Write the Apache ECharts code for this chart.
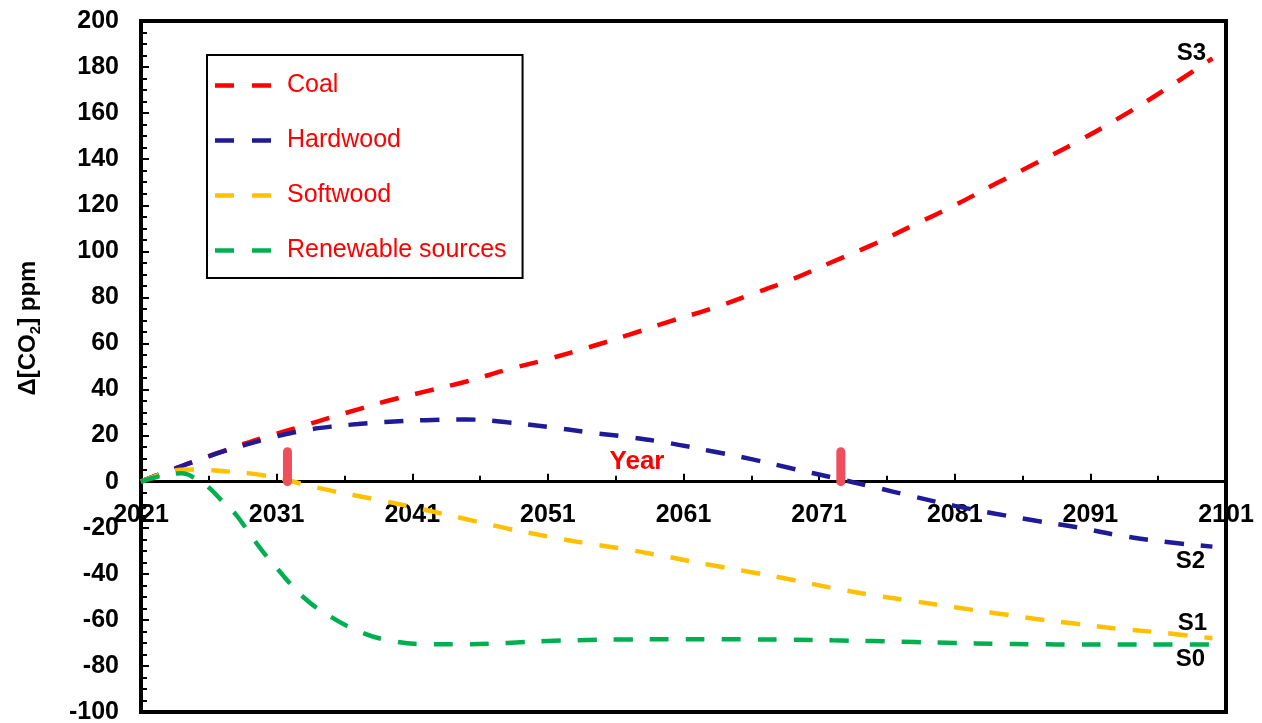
<!DOCTYPE html>
<html><head><meta charset="utf-8">
<script src="https://cdn.jsdelivr.net/npm/echarts@6/dist/echarts.min.js"></script>
<style>html,body{margin:0;padding:0;background:#fff}#c{width:1262px;height:723px}</style>
</head><body><div id="c"></div>
<script>
const startYear = 2021;
const endYear = 2101;
const years = [2021,2022,2023,2024,2025,2026,2027,2028,2029,2030,2031,2033,2035,2037,2039,2042,2045,2048,2051,2054,2057,2060,2063,2066,2069,2072,2075,2078,2081,2084,2087,2090,2093,2096,2100];
const coal = [0,2.4,4.6,6.8,9,11.1,13.2,15.3,17.2,19.1,20.8,24.3,27.9,31.4,34.8,39.2,43.5,48.6,53.2,58.3,63.8,69.6,75,81.3,87.8,95.5,103,111.5,120,129.3,138.3,147.5,157.5,168.3,183.8];
const hardwood = [0,2.4,4.6,6.8,8.9,11,13,14.9,16.5,18.2,19.7,22.2,23.9,25,25.9,26.7,27,25.8,23.8,21.4,19.3,16.7,13.3,9.8,5.7,1.8,-2.3,-6.5,-10.5,-13.9,-17,-19.8,-23.2,-25.8,-28.2];
const softwood = [0,2.3,4.2,5.2,5.3,5,4.6,4.1,3.6,2.8,1.8,-1.2,-3.9,-6.2,-8.5,-12.3,-16.3,-20.3,-23.8,-26.9,-29.6,-32.8,-36.2,-39.3,-42.6,-46.2,-49.3,-51.9,-54.5,-57.1,-59.6,-61.7,-63.8,-65.4,-68];
const renewable = [0,1.8,3.3,3.6,1.5,-2.5,-8.5,-14.3,-22.5,-30.5,-37.5,-50.3,-58.7,-64.8,-68.6,-70.6,-70.6,-70,-69.2,-68.7,-68.5,-68.4,-68.4,-68.5,-68.6,-68.9,-69.2,-69.6,-70,-70.4,-70.6,-70.7,-70.7,-70.7,-70.7];
const seriesNames = ['Coal','Hardwood','Softwood','Renewable sources'];
const endTags = ['S3','S2','S1','S0'];
const markerYears = [2031.8, 2072.6];
const markerSpan = [0, 13];
const yMin = -100, yMax = 200, yStep = 20;
const xStep = 10;

const FONT = 'Arial, "Liberation Sans", sans-serif';
const colors = ['#ff0000','#1f1b97','#ffc000','#00b050'];
const values = [coal, hardwood, softwood, renewable];
const tagOffsets = [[-21,-5],[-22,15],[-20,-15],[-22,15]];
const GRID = {left:141, right:36, top:21, bottom:11};
const gridH = 723 - GRID.top - GRID.bottom;
const zeroOffset = -gridH * (0 - yMin) / (yMax - yMin);
const dashIcon = 'path://M0,0H19V4.5H0Z M37,0H56V4.5H37Z';

const series = values.map((v,i)=>({
  name: seriesNames[i], type:'line', smooth:0.4, symbol:'none', clip:false,
  data: years.map((y,k)=>[y-startYear, v[k]]),
  lineStyle:{color:colors[i], width:4.5, type:[19,17], cap:'butt'},
  itemStyle:{color:colors[i]},
  endLabel:{show:true, formatter:endTags[i], align:'center', verticalAlign:'middle', distance:0,
    offset:tagOffsets[i], fontSize:24, fontWeight:'bold', color:'#000', fontFamily:FONT},
  z:3
}));
markerYears.forEach(y=>series.push({
  name:'marker', type:'line', symbol:'none', silent:true, z:5,
  data: markerSpan.map(v=>[y-startYear, v]),
  lineStyle:{color:'#ef4f5d', width:9, cap:'round'}
}));

const chart = echarts.init(document.getElementById('c'), null, {renderer:'canvas'});
chart.setOption({
  animation:false,
  backgroundColor:'#fff',
  grid:Object.assign({show:true, borderColor:'#000', borderWidth:4, backgroundColor:'transparent',
    containLabel:false, outerBoundsMode:'none'}, GRID),
  legend:{
    data:seriesNames.map(n=>({name:n, icon:dashIcon})), orient:'vertical', left:207, top:55,
    backgroundColor:'#fff', borderColor:'#000', borderWidth:2, borderRadius:0,
    padding:[18,16,15,8], itemWidth:56, itemHeight:24, itemGap:30, symbolKeepAspect:true,
    itemStyle:{borderWidth:0},
    textStyle:{color:'#ff0000', fontSize:25, fontFamily:FONT, lineHeight:25, padding:[0,0,0,11]}
  },
  xAxis:{
    type:'value', min:0, max:endYear-startYear, interval:xStep, position:'bottom', offset:zeroOffset,
    axisLine:{onZero:false, lineStyle:{color:'#000', width:3}},
    axisTick:{show:true, inside:true, length:8, lineStyle:{color:'#000', width:2}},
    minorTick:{show:true, splitNumber:2, length:6, lineStyle:{color:'#000', width:2}},
    splitLine:{show:false},
    axisLabel:{margin:21, fontSize:25, fontWeight:'bold', color:'#000', fontFamily:FONT,
      formatter:v=>String(v+startYear)}
  },
  yAxis:{
    type:'value', min:yMin, max:yMax, interval:yStep,
    axisLine:{show:true, onZero:false, lineStyle:{color:'#000', width:4}},
    axisTick:{show:true, inside:true, length:8, lineStyle:{color:'#000', width:2}},
    minorTick:{show:true, splitNumber:4, length:6, lineStyle:{color:'#000', width:2}},
    splitLine:{show:false},
    axisLabel:{margin:22, fontSize:25, fontWeight:'bold', color:'#000', fontFamily:FONT}
  },
  graphic:[
    {type:'text', x:28, y:328, rotation:Math.PI/2, z:10,
      style:{text:'{a|Δ[CO}{s|2}{a|] ppm}', align:'center', verticalAlign:'middle',
        rich:{a:{fontSize:24, fontWeight:'bold', fontFamily:FONT, fill:'#000', lineHeight:30},
              s:{fontSize:15, fontWeight:'bold', fontFamily:FONT, fill:'#000', verticalAlign:'bottom', lineHeight:30}}}},
    {type:'text', x:637, y:462, z:10,
      style:{text:'Year', align:'center', verticalAlign:'middle', fontSize:26, fontWeight:'bold', fontFamily:FONT, fill:'#ff0000'}}
  ],
  series:series
});
</script></body></html>
